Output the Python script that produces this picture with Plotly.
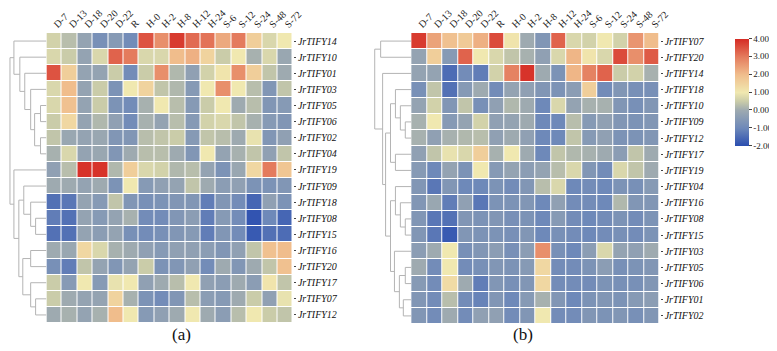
import plotly.graph_objects as go

columns = ["D-7", "D-13", "D-18", "D-20", "D-22", "R", "H-0", "H-2", "H-8",
           "H-12", "H-24", "S-6", "S-12", "S-24", "S-48", "S-72"]

genes_a = ["JrTIFY14", "JrTIFY10", "JrTIFY01", "JrTIFY03", "JrTIFY05", "JrTIFY06",
           "JrTIFY02", "JrTIFY04", "JrTIFY19", "JrTIFY09", "JrTIFY18", "JrTIFY08",
           "JrTIFY15", "JrTIFY16", "JrTIFY20", "JrTIFY17", "JrTIFY07", "JrTIFY12"]

values_a = [
    [0.6, 0.3, -0.2, -0.8, -0.5, -0.9, 3.5, 2.7, 3.8, 3.2, 3.1, 2.3, 3.0, 1.6, 0.7, 1.0],
    [0.7, 0.5, -0.2, 0.7, 3.3, 3.0, 0.7, 0.7, 2.0, 2.2, 1.5, 0.5, 1.0, 0.1, 0.7, -0.1],
    [3.5, 1.6, -0.2, -0.2, 0.5, -0.9, 0.5, 2.7, 0.2, -0.3, 0.6, 1.1, 2.7, 1.6, 0.4, 0.0],
    [0.7, 2.0, -0.2, 0.5, -0.7, 1.0, 1.5, 0.4, 0.2, -0.5, 1.0, 2.7, 1.0, 0.3, -0.6, 0.4],
    [0.7, 1.9, -0.2, 0.5, -0.7, -0.9, 0.1, 1.0, 0.3, -0.5, 0.5, 1.0, 0.0, 0.3, -0.6, -0.5],
    [0.5, 1.4, -0.2, 0.2, -0.3, -0.9, 0.1, -0.2, 0.3, -0.5, 0.6, 0.7, 0.4, 0.1, -0.5, -0.6],
    [0.4, -0.1, -0.2, -0.1, -0.6, -0.6, 0.3, 0.4, 0.5, -0.5, 0.4, 0.3, 0.0, 0.9, -0.6, -0.3],
    [0.1, 0.7, -0.2, -0.1, -0.6, 0.0, 0.3, 0.3, 0.0, -0.6, 1.0, -0.2, 0.1, 0.4, -0.3, 0.4],
    [-0.3, 0.3, 3.9, 3.9, 0.2, 1.6, 0.7, 0.6, 0.2, 0.3, -0.2, -0.7, -0.1, 1.4, 3.0, 1.8],
    [0.0, 0.0, -0.2, 0.0, -0.7, 1.0, -0.5, -0.3, -0.2, 0.4, 0.0, -0.4, -0.3, -0.7, -0.7, -0.6],
    [-1.4, -1.3, -0.2, -0.5, 0.4, -0.6, -0.8, -0.7, -0.6, -0.6, -1.2, -0.6, -0.9, -1.6, -0.3, -0.7],
    [-1.2, -1.4, -0.2, -0.5, -0.2, 0.1, -0.9, -0.9, -0.6, -0.4, -1.2, -0.5, -0.9, -1.9, -1.0, -1.6],
    [-1.4, -1.4, -0.2, -0.4, -0.2, -0.8, -0.9, -0.8, -0.6, -0.5, -1.2, -0.6, -0.9, -1.8, -1.4, -1.5],
    [0.0, -0.1, 1.4, 0.7, 0.1, 0.0, -0.3, -0.5, -0.3, -0.3, -0.4, -0.6, -0.3, 0.4, 1.9, 2.0],
    [-0.8, -1.2, 0.4, -0.2, -0.6, -0.2, 0.5, -0.7, -0.6, -0.3, -0.9, 0.0, -0.6, 0.0, 0.4, 1.9],
    [0.5, -0.5, 1.0, -0.5, 0.9, 1.0, -0.3, 0.0, 0.3, 1.0, -0.3, -0.4, 0.0, -0.4, 1.1, 0.4],
    [0.5, 0.0, -0.2, -0.2, 1.5, 0.1, -0.7, -0.9, -0.6, 0.3, -0.4, -0.5, 0.0, 0.5, -0.3, 0.9],
    [0.0, 0.1, -0.2, 0.1, 2.0, 1.0, -0.5, -0.3, 0.0, 1.0, 0.0, -0.4, 0.3, 1.0, 0.5, 0.4],
]

genes_b = ["JrTIFY07", "JrTIFY20", "JrTIFY14", "JrTIFY18", "JrTIFY10", "JrTIFY09",
           "JrTIFY12", "JrTIFY17", "JrTIFY19", "JrTIFY04", "JrTIFY16", "JrTIFY08",
           "JrTIFY15", "JrTIFY03", "JrTIFY05", "JrTIFY06", "JrTIFY01", "JrTIFY02"]

values_b = [
    [3.8, 2.4, 1.9, 1.7, 2.2, 3.6, 1.1, 0.0, -0.6, 3.3, 0.7, 0.6, 1.0, 0.6, 2.6, 2.0],
    [-0.2, 1.6, -0.5, 3.3, 1.0, 0.7, 0.4, 0.1, -0.3, 0.7, 2.1, 1.1, 0.7, 3.6, 2.7, 3.4],
    [-0.2, -0.2, -1.5, -0.9, -1.2, 0.6, 2.9, 3.9, 0.0, -0.7, 2.1, 2.9, 3.3, 0.5, 0.6, 0.1],
    [-0.8, 0.4, -1.4, -0.5, 0.0, -0.9, -0.2, -0.3, -0.6, -0.7, -0.4, 1.6, -0.9, -0.6, -0.8, -0.8],
    [-0.2, 0.6, -0.6, 0.4, -0.8, -0.3, 0.2, 0.0, -1.0, 0.7, -0.2, 0.1, 0.1, -0.6, -0.8, -0.6],
    [0.1, 1.0, -0.5, -0.2, 0.6, -0.3, -0.2, 0.0, -1.0, -1.0, 0.3, -0.5, -0.3, -0.6, -0.7, -0.6],
    [0.1, -0.3, 0.1, 0.2, 0.3, -0.3, 0.0, -0.3, -1.0, -1.0, 0.4, -0.5, -0.3, -0.7, -0.7, -0.6],
    [-0.3, 0.4, 0.9, 0.7, 1.6, 0.1, 1.0, 0.0, -1.0, 0.4, 0.2, 0.1, 0.0, -0.4, 0.4, 0.0],
    [-0.5, -1.0, -0.2, -0.7, 1.0, -0.5, -0.2, -0.4, -0.2, 0.3, 0.7, -0.6, -0.9, 0.7, 0.4, 0.0],
    [-0.6, -1.3, -0.6, -1.0, -1.0, -0.7, -0.9, -0.6, 0.3, 0.7, -1.0, -0.9, -1.0, -0.7, -0.8, -0.5],
    [-0.6, -0.1, -1.2, -0.3, -1.3, -0.7, -0.7, -0.6, -1.0, -0.3, -0.9, -0.9, -1.0, 0.2, -0.6, -0.6],
    [-0.6, -1.3, -1.4, -0.6, -0.7, -0.6, -0.8, -0.7, -1.0, -0.5, -0.9, -1.0, -0.9, -0.7, -0.9, -0.7],
    [-0.6, -1.3, -1.8, -0.6, -0.7, -0.7, -0.8, -0.6, -1.0, -0.8, -0.9, -1.0, -0.9, -0.8, -0.9, -0.7],
    [-0.4, 0.0, 1.0, -0.8, -0.6, -0.4, -0.8, -0.4, 2.7, -0.8, -1.0, -0.4, 0.7, -0.2, -0.3, 0.0],
    [0.0, -0.9, 1.0, -0.9, -0.8, -0.6, -0.7, -0.5, 1.4, -0.9, -0.9, -0.7, -0.4, -0.8, -0.7, -0.6],
    [-0.5, -0.9, 1.3, 0.0, -1.2, -0.6, -0.8, -0.6, 1.4, -0.9, -0.9, -0.9, -0.7, -0.8, -0.8, -0.6],
    [-0.6, -0.9, 0.3, -0.9, -1.1, -0.6, -1.0, -0.5, 0.1, -0.6, -1.0, -0.7, -0.6, -0.7, -0.5, -0.4],
    [-0.6, -0.9, 0.0, -0.9, -0.3, -0.3, -0.9, -0.6, 1.0, -0.9, -0.9, -0.6, -0.7, -0.6, -0.8, -0.6],
]

colorbar_ticks = [-2, -1, 0, 1, 2, 3, 4]

# Hierarchical clustering merges: (left, right, height). Leaves are row indices;
# internal nodes are referenced as "n<k>" (k = index in the merge list).
tree_a = [
    (4, 5, 6), (6, 7, 6), ("n0", "n1", 12), (3, "n2", 16), (2, "n3", 22),
    (1, "n4", 27), (0, "n5", 33),
    (11, 12, 11), (10, "n7", 16), (9, "n8", 23), (13, 14, 16), (16, 17, 11),
    (15, "n11", 16), ("n10", "n12", 24), ("n9", "n13", 28), (8, "n14", 33),
    ("n6", "n15", 37),
]
tree_b = [
    (0, 1, 31), (5, 6, 6), (4, "n1", 11), (3, "n2", 16), (7, 8, 16), ("n3", "n4", 21),
    (11, 12, 6), (10, "n6", 11), (9, "n7", 16), (14, 15, 6), (16, 17, 8),
    ("n9", "n10", 12), (13, "n11", 17), ("n8", "n12", 21), ("n5", "n13", 26),
    (2, "n14", 29), ("n0", "n15", 37),
]

cscale = [
    [0.0, "#2b4eb0"], [1 / 6, "#6e89b9"], [2 / 6, "#9eaab0"], [2.5 / 6, "#cacca9"],
    [3 / 6, "#f0e8b0"], [4 / 6, "#f0bd8c"], [5 / 6, "#e47b5d"], [1.0, "#d52b24"],
]

W, H = 777, 351
SERIF = "Liberation Serif, Times New Roman, serif"


def dendro_xy(tree):
    pos = {}
    xs, ys = [], []

    def get(node):
        if isinstance(node, str):
            return pos[node]
        return (0.0, float(node))

    for k, (l, r, h) in enumerate(tree):
        hl, yl = get(l)
        hr, yr = get(r)
        xs += [hl, h, h, hr, None]
        ys += [yl, yl, yr, yr, None]
        pos["n%d" % k] = (h, (yl + yr) / 2)
    return xs, ys


def px_x(a, b):
    return [a / W, b / W]


def px_y(top, bottom):
    return [1 - bottom / H, 1 - top / H]


fig = go.Figure()

fig.add_trace(go.Heatmap(z=values_a, x=list(range(len(columns))), y=list(range(len(genes_a))),
                         coloraxis="coloraxis", xgap=1, ygap=1, xaxis="x", yaxis="y"))
fig.add_trace(go.Heatmap(z=values_b, x=list(range(len(columns))), y=list(range(len(genes_b))),
                         coloraxis="coloraxis", xgap=1, ygap=1, xaxis="x2", yaxis="y2"))

xa, ya = dendro_xy(tree_a)
fig.add_trace(go.Scatter(x=xa, y=ya, mode="lines", line=dict(color="#b4b4b4", width=1),
                         xaxis="x3", yaxis="y3", hoverinfo="skip", showlegend=False))
xb, yb = dendro_xy(tree_b)
fig.add_trace(go.Scatter(x=xb, y=yb, mode="lines", line=dict(color="#b4b4b4", width=1),
                         xaxis="x4", yaxis="y4", hoverinfo="skip", showlegend=False))

xcommon = dict(side="top", tickmode="array", tickvals=list(range(len(columns))),
               ticktext=columns, tickangle=-45, showgrid=False, zeroline=False,
               ticks="", range=[-0.5, len(columns) - 0.5],
               tickfont=dict(family=SERIF, size=10, color="#222"))
ycommon = dict(side="right", tickmode="array", tickvals=list(range(18)),
               showgrid=False, zeroline=False, ticks="outside", ticklen=2,
               tickcolor="#444", range=[17.5, -0.5],
               tickfont=dict(family=SERIF, size=10, color="#111", style="italic"))

fig.update_layout(
    width=W, height=H, margin=dict(l=0, r=0, t=0, b=0),
    paper_bgcolor="white", plot_bgcolor="white", showlegend=False,
    xaxis=dict(domain=px_x(39, 289), anchor="y", **xcommon),
    yaxis=dict(domain=px_y(25, 315), anchor="x", ticktext=genes_a, **ycommon),
    xaxis2=dict(domain=px_x(409, 661), anchor="y2", **xcommon),
    yaxis2=dict(domain=px_y(25, 316), anchor="x2", ticktext=genes_b, **ycommon),
    xaxis3=dict(domain=px_x(0, 39), anchor="y3", range=[39, 0], visible=False),
    yaxis3=dict(domain=px_y(25, 315), anchor="x3", range=[17.5, -0.5], visible=False),
    xaxis4=dict(domain=px_x(370, 409), anchor="y4", range=[39, 0], visible=False),
    yaxis4=dict(domain=px_y(25, 316), anchor="x4", range=[17.5, -0.5], visible=False),
    coloraxis=dict(
        colorscale=cscale, cmin=-2, cmax=4,
        colorbar=dict(
            x=737 / W, xanchor="left", xpad=0, y=1 - 84 / H, yanchor="middle", ypad=0,
            len=107 / H, lenmode="fraction", thickness=14, outlinewidth=0,
            tickmode="array", tickvals=colorbar_ticks,
            ticktext=["%.2f" % v for v in colorbar_ticks],
            ticks="outside", ticklen=3, tickcolor="#444",
            tickfont=dict(family=SERIF, size=9, color="#222"),
        ),
    ),
    annotations=[
        dict(text="(a)", x=164 / W, y=1 - 338 / H, xref="paper", yref="paper",
             showarrow=False, font=dict(family=SERIF, size=17, color="#111")),
        dict(text="(b)", x=535 / W, y=1 - 338 / H, xref="paper", yref="paper",
             showarrow=False, font=dict(family=SERIF, size=17, color="#111")),
    ],
)

fig.write_html("out.html")
